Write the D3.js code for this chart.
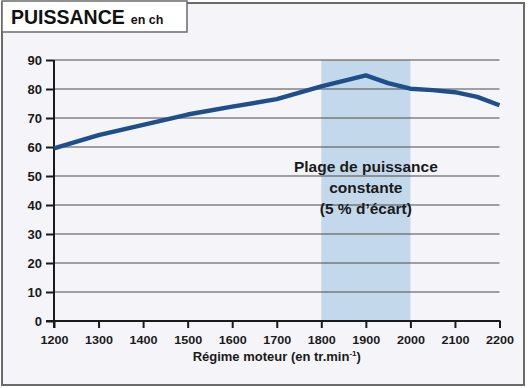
<!DOCTYPE html>
<html><head><meta charset="utf-8">
<script src="https://cdn.jsdelivr.net/npm/d3@7"></script>
<style>
html,body{margin:0;padding:0;background:#fff;}
svg{display:block;font-family:"Liberation Sans",Arial,Helvetica,sans-serif;}
</style></head>
<body>
<svg id="c" width="529" height="388"></svg>
<script>
const rpm = [1200,1300,1400,1500,1600,1700,1800,1900,1950,2000,2050,2100,2150,2200];
const power = [59.5,64.1,67.6,71.2,73.9,76.5,80.9,84.7,82.0,80.1,79.6,78.9,77.3,74.4];
const xTicks = [1200,1300,1400,1500,1600,1700,1800,1900,2000,2100,2200];
const yTicks = [0,10,20,30,40,50,60,70,80,90];
const band = [1800,2000];
const bandLabel = ["Plage de puissance","constante","(5 % d\u2019écart)"];
const title = "PUISSANCE";
const titleUnit = "en ch";
const xTitle = "Régime moteur (en tr.min";

const svg = d3.select("#c");
// frame
svg.append("rect").attr("x",2).attr("y",3).attr("width",522).attr("height",382)
  .attr("fill","#f5f4f8").attr("stroke","#6a6a6a").attr("stroke-width",2);
svg.append("rect").attr("x",2).attr("y",1).attr("width",185).attr("height",31)
  .attr("fill","#ffffff").attr("stroke","#6a6a6a").attr("stroke-width",1.5);
const t = svg.append("text").attr("x",11).attr("y",24).attr("fill","#111").attr("font-weight","bold");
t.append("tspan").attr("font-size",19.5).text(title);
t.append("tspan").attr("font-size",12.5).attr("dx",6).text(titleUnit);

const x = d3.scaleLinear().domain([1200,2200]).range([54,499.5]);
const y = d3.scaleLinear().domain([0,90]).range([321,60]);

// band
svg.append("rect").attr("x",x(band[0])).attr("y",y(90)).attr("width",x(band[1])-x(band[0]))
  .attr("height",y(0)-y(90)).attr("fill","#c4d8eb");

// gridlines
svg.append("g").selectAll("line").data(yTicks.filter(d=>d>0)).join("line")
  .attr("x1",x(1200)).attr("x2",x(2200)).attr("y1",d=>y(d)).attr("y2",d=>y(d))
  .attr("stroke","#4a4a4a").attr("stroke-width",1.2);

// band label
const lab = svg.append("text").attr("text-anchor","middle").attr("font-weight","bold")
  .attr("font-size",15.5).attr("fill","#1a1a1a");
bandLabel.forEach((s,i)=>lab.append("tspan").attr("x",x(1900)).attr("y",172+i*21).text(s));

// axes
const yAxis = d3.axisLeft(y).tickValues(yTicks).tickSize(8).tickPadding(4).tickFormat(d3.format("d"));
const gy = svg.append("g").attr("transform",`translate(${x(1200)},0)`).call(yAxis);
gy.select(".domain").remove();
gy.selectAll(".tick line").attr("stroke","#1a1a1a").attr("stroke-width",2);
gy.selectAll(".tick text").attr("font-size",13).attr("font-weight","bold").attr("fill","#1a1a1a")
  .attr("font-family","Liberation Sans, Arial, sans-serif");
svg.append("line").attr("x1",x(1200)).attr("x2",x(1200)).attr("y1",y(90)).attr("y2",y(0)+7)
  .attr("stroke","#1a1a1a").attr("stroke-width",2);

const xAxis = d3.axisBottom(x).tickValues(xTicks).tickSize(7).tickPadding(8).tickFormat(d3.format("d"));
const gx = svg.append("g").attr("transform",`translate(0,${y(0)})`).call(xAxis);
gx.select(".domain").remove();
gx.selectAll(".tick line").attr("stroke","#1a1a1a").attr("stroke-width",2);
gx.selectAll(".tick text").attr("font-size",11.5).attr("font-weight","bold").attr("fill","#1a1a1a")
  .attr("font-family","Liberation Sans, Arial, sans-serif").attr("textLength",28).attr("lengthAdjust","spacingAndGlyphs");
svg.append("line").attr("x1",x(1200)-8).attr("x2",x(2200)+1).attr("y1",y(0)).attr("y2",y(0))
  .attr("stroke","#1a1a1a").attr("stroke-width",2);

const xt = svg.append("text").attr("x",x(1700)).attr("y",361).attr("text-anchor","middle")
  .attr("font-weight","bold").attr("font-size",13).attr("fill","#1a1a1a");
xt.append("tspan").text(xTitle);
xt.append("tspan").attr("font-size",8).attr("dy",-5).text("-1");
xt.append("tspan").attr("dy",5).text(")");

// line
svg.append("path").datum(rpm.map((r,i)=>[r,power[i]]))
  .attr("d",d3.line().x(d=>x(d[0])).y(d=>y(d[1])))
  .attr("fill","none").attr("stroke","#1f4f8a").attr("stroke-width",4.4)
  .attr("stroke-linejoin","round").attr("stroke-linecap","butt");
</script>
</body></html>
